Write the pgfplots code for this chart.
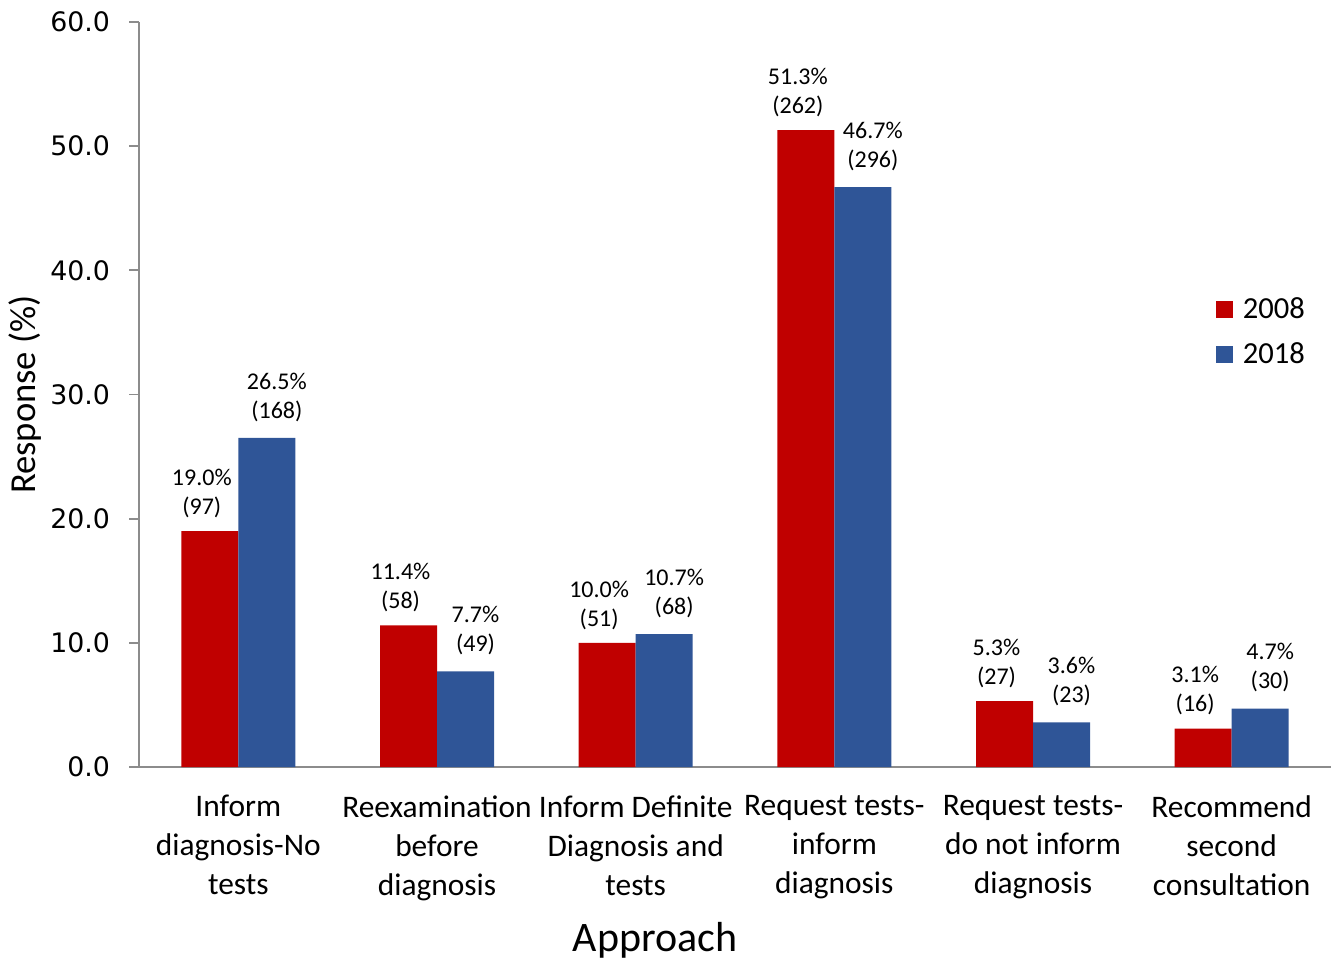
\documentclass[border=0pt]{standalone}
\usepackage{pgfplots}
\pgfplotsset{compat=1.18}
\usepackage{fontspec}
\setmainfont{Carlito}
\newfontfamily\tickfont{DejaVu Sans}

\definecolor{bar08}{RGB}{192,0,0}
\definecolor{bar18}{RGB}{47,85,151}
\definecolor{axisgray}{RGB}{140,140,140}

% share of responses (%) and number of respondents per approach
\pgfplotstableread{
x  pct   n
0  19.0  97
1  11.4  58
2  10.0  51
3  51.3  262
4  5.3   27
5  3.1   16
}\yearA
\pgfplotstableread{
x  pct   n
0  26.5  168
1  7.7   49
2  10.7  68
3  46.7  296
4  3.6   23
5  4.7   30
}\yearB

\begin{document}
\begin{tikzpicture}
\begin{axis}[
  at={(0,0)}, anchor=south west,
  scale only axis,
  width=596pt, height=372.5pt,
  xmin=-0.5, xmax=5.5,
  ymin=0, ymax=60,
  axis x line=bottom, axis y line=left,
  axis line style={-, draw=axisgray, line width=0.9pt},
  xtick=data,
  xtick style={draw=none},
  xticklabels={
    {Inform\\diagnosis-No\\tests},
    {Reexamination\\before\\diagnosis},
    {Inform Definite\\Diagnosis and\\tests},
    {Request tests-\\inform\\diagnosis},
    {Request tests-\\do not inform\\diagnosis},
    {Recommend\\second\\consultation}},
  xticklabel style={align=center, anchor=north, inner sep=0pt, yshift=-9pt,
    font=\fontsize{15.7}{19.5}\selectfont},
  ytick={0,10,...,60},
  tick align=outside,
  ytick style={draw=axisgray, line width=0.9pt},
  major tick length=5pt,
  /pgf/number format/assume math mode=true,
  yticklabel={\pgfmathprintnumber[fixed,fixed zerofill,precision=1]{\tick}},
  yticklabel style={font=\tickfont\fontsize{13.4}{15}\selectfont, xshift=-6pt},
  ylabel={Response (\%)},
  ylabel style={at={(axis description cs:-0.0956,0.5)}, anchor=center,
    font=\fontsize{18.3}{20}\selectfont},
  xlabel={Approach},
  xlabel style={at={(axis description cs:0.433,0)}, anchor=center, yshift=-86.5pt,
    font=\fontsize{21}{24}\selectfont},
  ybar, bar width=28.5pt,
  clip=false,
  legend style={at={(0.898,0.641)}, anchor=north west, draw=none, fill=none,
    font=\fontsize{15.3}{18}\selectfont, row sep=6.5pt},
  legend cell align=left,
  legend image code/.code={\fill[#1] (0pt,-4.25pt) rectangle (8.5pt,4.25pt);
    \path (11.5pt,0pt);},
  nodes near coords={\pgfmathprintnumber[fixed,fixed zerofill,precision=1]{\pgfplotspointmeta}\%\\(\pgfmathprintnumber[fixed,precision=0]{\cnt})},
  every node near coord/.append style={align=center, anchor=south, inner sep=0pt,
    font=\fontsize{12}{14.5}\selectfont, text=black},
]
\addplot+[draw=none, fill=bar08, bar shift=-14.25pt,
  visualization depends on={\thisrow{n}\as\cnt},
  every node near coord/.append style={xshift=-4pt, yshift=6.5pt}]
  table[x=x, y=pct] {\yearA};
\addlegendentry{2008}
\addplot+[draw=none, fill=bar18, bar shift=14.25pt,
  visualization depends on={\thisrow{n}\as\cnt},
  every node near coord/.append style={xshift=5pt, yshift=8pt}]
  table[x=x, y=pct] {\yearB};
\addlegendentry{2018}
\end{axis}
\pgfresetboundingbox
\path[use as bounding box] (-69.5pt,-96.5pt) rectangle (596pt,383.5pt);
\end{tikzpicture}
\end{document}
